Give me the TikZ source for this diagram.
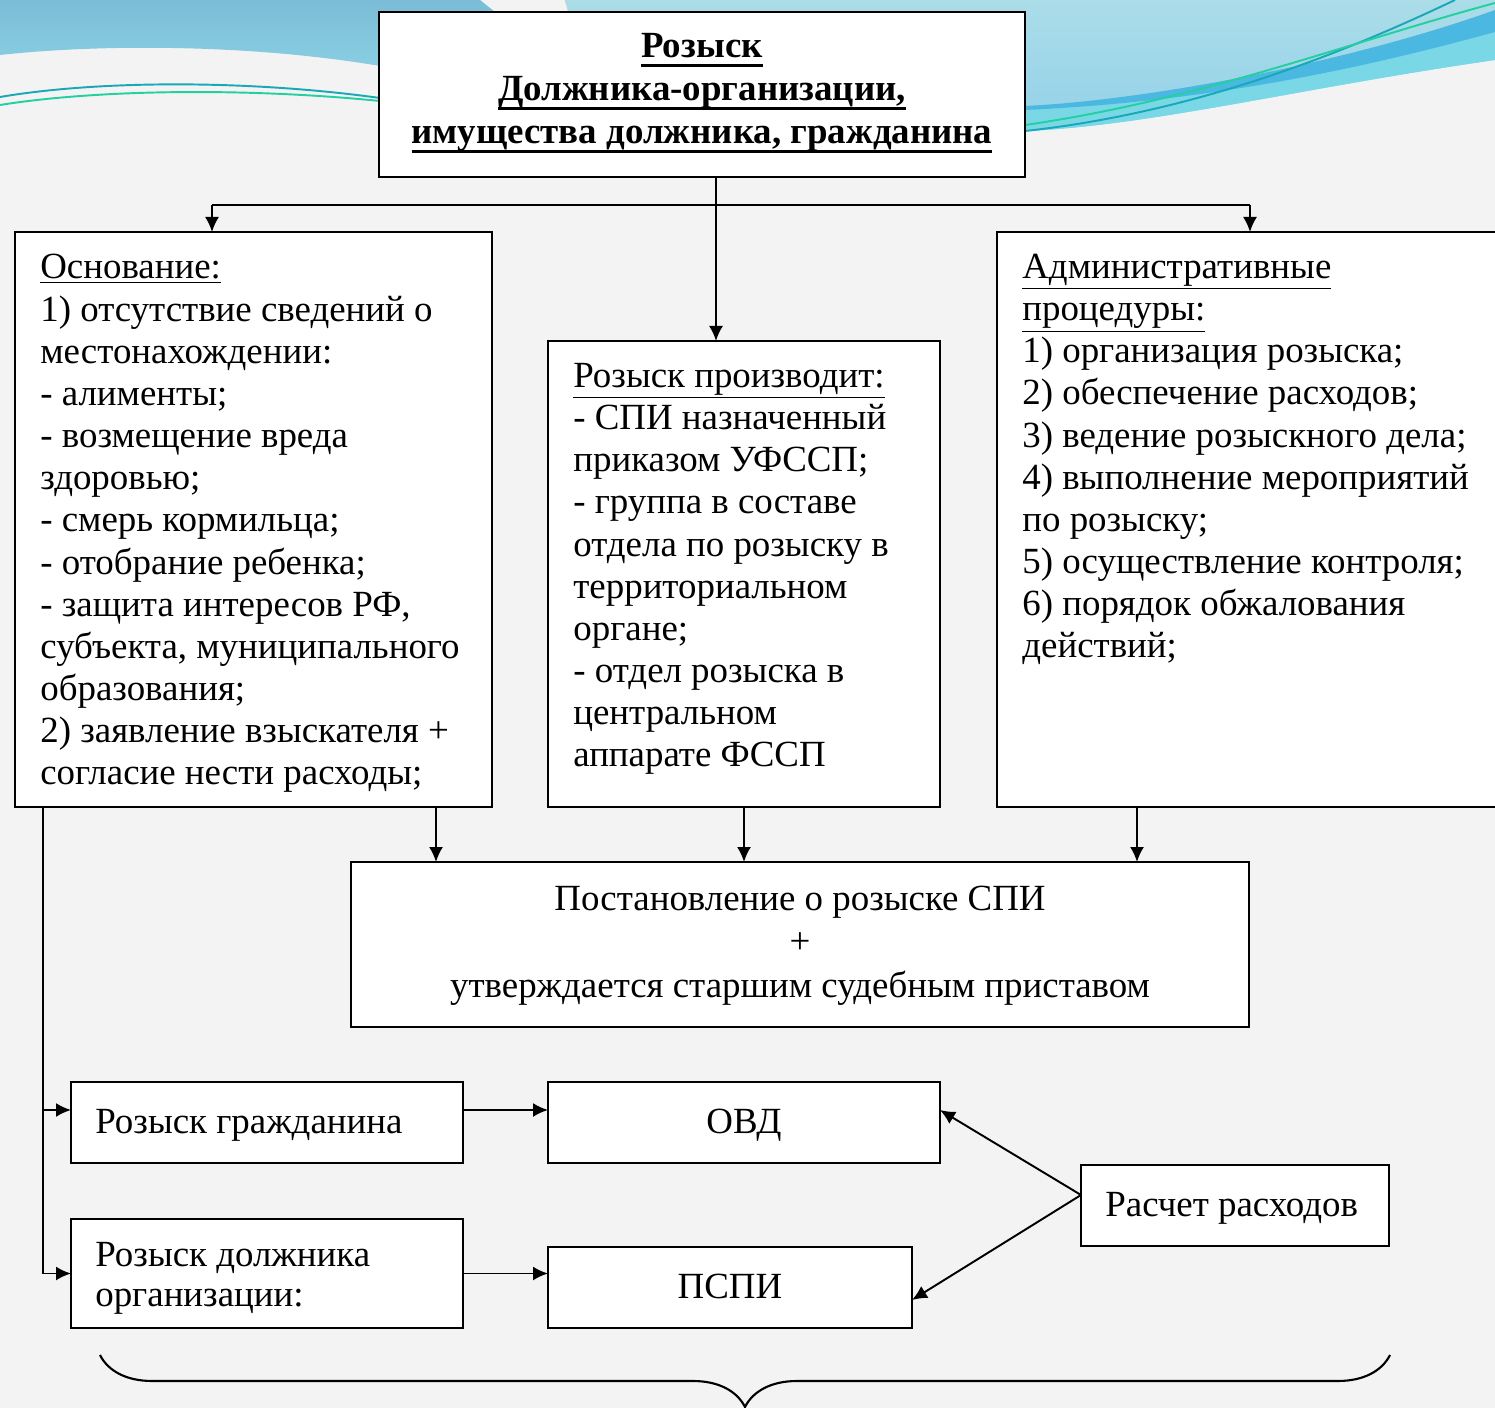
\documentclass[tikz,border=0pt]{standalone}
\usepackage{fontspec}
\setmainfont{Liberation Serif}
\usetikzlibrary{arrows.meta,fit,decorations.pathreplacing}
\definecolor{bgc}{HTML}{F3F3F3}
\definecolor{blA}{HTML}{7CBCD6}
\definecolor{blB}{HTML}{88CEE2}
\definecolor{blC}{HTML}{ABDDE8}
\definecolor{blD}{HTML}{92D0EA}
\definecolor{bandc}{HTML}{4AB8E0}
\definecolor{cyanb}{HTML}{7AD8E6}
\definecolor{lteal}{HTML}{18A8B8}
\definecolor{lgreen}{HTML}{22D0A0}
\newcommand\thickul[1]{\setbox0=\hbox{#1}\leavevmode\rlap{\vrule height -0.16em depth 0.24em width \wd0}\box0}
\begin{document}
\begin{tikzpicture}[x=0.02cm,y=-0.02cm,
  box/.style={draw=black, line width=1.2pt, fill=white, inner sep=0pt, outer sep=0pt},
  txt/.style={inner sep=0pt, align=left, anchor=base west, font=\fontsize{21}{24}\selectfont},
  ctxt/.style={inner sep=0pt, align=center, anchor=base, font=\fontsize{21}{24}\selectfont},
  arr/.style={line width=1.1pt, -{Latex[length=0.3cm,width=0.28cm]}},
  ln/.style={line width=1.1pt},
  swl/.style={line width=1.1pt}
]
\useasboundingbox (0,0) rectangle (1495,1408);
% background
\fill[bgc] (0,0) rectangle (1495,1408);
% top-left swoosh
\shade[top color=blA, bottom color=blB] (0,0) -- (480,0) -- (530,40) -- (380,66)
  .. controls (250,44) and (100,44) .. (0,55) -- cycle;
% top-right swoosh
\shade[top color=blC, bottom color=blD] (565,0) -- (1495,0) -- (1495,60)
  .. controls (1300,88) and (1150,126) .. (1025,131) -- (600,140) -- cycle;
\fill[cyanb] (1025,109) .. controls (1200,102) and (1350,72) .. (1495,32) -- (1495,60)
  .. controls (1300,88) and (1150,126) .. (1025,131) -- cycle;
\fill[bandc] (1025,106) .. controls (1150,100) and (1350,62) .. (1495,10) -- (1495,32)
  .. controls (1350,72) and (1200,102) .. (1025,110) -- cycle;
\draw[swl, lteal] (1025,131) .. controls (1200,112) and (1350,50) .. (1455,0);
\draw[swl, lgreen] (1025,125) .. controls (1200,100) and (1350,42) .. (1495,3);
\draw[swl, lteal] (0,97) .. controls (100,80) and (250,80) .. (380,98);
\draw[swl, lgreen] (0,105) .. controls (100,89) and (250,88) .. (380,101);

% boxes
\node[box, fit={(379,12) (1025,177)}] (T) {};
\node[box, fit={(15,232) (492,807)}] (L) {};
\node[box, fit={(548,341) (940,807)}] (M) {};
\node[box, fit={(997,232) (1510,807)}] (R) {};
\node[box, fit={(351,862) (1249,1027)}] (P) {};
\node[box, fit={(71,1082) (463,1163)}] (G) {};
\node[box, fit={(548,1082) (940,1163)}] (O) {};
\node[box, fit={(71,1219) (463,1328)}] (D) {};
\node[box, fit={(548,1247) (912,1328)}] (S) {};
\node[box, fit={(1081,1165) (1389,1246)}] (C) {};

% texts (base anchor = baseline of the last line)
\node[ctxt, font=\fontsize{21}{24.5}\selectfont\bfseries] (Tt) at (702,144)
  {\thickul{Розыск}\\\thickul{Должника-организации,}\\\thickul{имущества должника, гражданина}};
\node[txt] (Lt) at (40,785) {\underline{Основание:}\\
1) отсутствие сведений о\\
местонахождении:\\
- алименты;\\
- возмещение вреда\\
здоровью;\\
- смерь кормильца;\\
- отобрание ребенка;\\
- защита интересов РФ,\\
субъекта, муниципального\\
образования;\\
2) заявление взыскателя +\\
согласие нести расходы;};
\node[txt] (Mt) at (573,767) {\underline{Розыск производит:}\\
- СПИ назначенный\\
приказом УФССП;\\
- группа в составе\\
отдела по розыску в\\
территориальном\\
органе;\\
- отдел розыска в\\
центральном\\
аппарате ФССП};
\node[txt] (Rt) at (1022,658) {\underline{Административные}\\
\underline{процедуры:}\\
1) организация розыска;\\
2) обеспечение расходов;\\
3) ведение розыскного дела;\\
4) выполнение мероприятий\\
по розыску;\\
5) осуществление контроля;\\
6) порядок обжалования\\
действий;};
\node[ctxt, font=\fontsize{21}{24.7}\selectfont] (Pt) at (800,997)
  {Постановление о розыске СПИ\\+\\утверждается старшим судебным приставом};
\node[txt] (Gt) at (95,1133) {Розыск гражданина};
\node[ctxt] (Ot) at (744,1133) {ОВД};
\node[txt, font=\fontsize{21}{22.2}\selectfont] (Dt) at (95,1306) {Розыск должника\\организации:};
\node[ctxt] (St) at (730,1298) {ПСПИ};
\node[txt] (Ct) at (1105,1216) {Расчет расходов};

% connectors
\coordinate (tb) at (716,177);
\coordinate (bl) at (212,205);
\coordinate (br) at (1250,205);
\draw[ln] (bl) -- (br);
\draw[arr] (tb) -- (tb |- M.north);
\draw[arr] (bl) -- (bl |- L.north);
\draw[arr] (br) -- (br |- R.north);

\coordinate (x1) at (436,0);
\coordinate (x2) at (744,0);
\coordinate (x3) at (1137,0);
\draw[arr] (x1 |- L.south) -- (x1 |- P.north);
\draw[arr] (x2 |- M.south) -- (x2 |- P.north);
\draw[arr] (x3 |- R.south) -- (x3 |- P.north);

\coordinate (lb) at (43,0);
\coordinate (ga) at (43,1110);
\draw[ln] (lb |- L.south) -- (lb |- D.west);
\draw[arr] (ga) -- (ga -| G.west);
\draw[arr] (lb |- D.west) -- (D.west);
\draw[arr] (ga -| G.east) -- (ga -| O.west);
\draw[arr] (D.east) -- (D.east -| S.west);

\coordinate (cs) at (1081,1195);
\coordinate (se) at (912,1300);
\draw[arr] (cs) -- (ga -| O.east);
\draw[arr] (cs) -- (se);

% brace
\draw[line width=1.2pt, decorate, decoration={brace, amplitude=1.04cm}] (1390,1355) -- (100,1355);
\end{tikzpicture}
\end{document}
